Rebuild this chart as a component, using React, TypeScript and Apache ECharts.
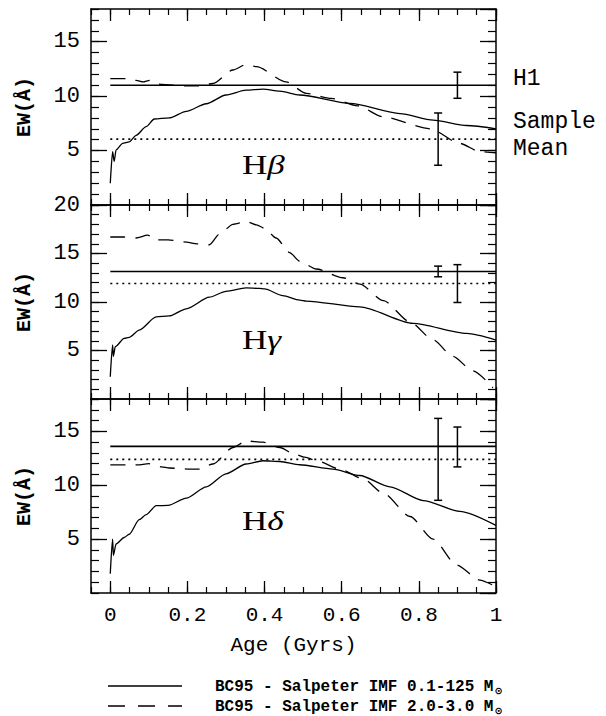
import React, { useEffect, useRef } from 'react';
import * as echarts from 'echarts';

// ---------- data ----------
const majorAgeTicks = [0, 0.2, 0.4, 0.6, 0.8, 1];
const panelLabels = ['H{g|β}', 'H{g|γ}', 'H{g|δ}'];
const panelYMax = [18, 20, 18];
const h1Values = [11.0, 13.15, 13.6];
const sampleMeanValues = [6.05, 11.9, 12.4];

// [age, centre, half-length]
const errorBarsHbeta = [[0.85, 6.05, 2.4], [0.9, 11.0, 1.2]];
const errorBarsHgamma = [[0.85, 13.15, 0.55], [0.9, 11.9, 1.95]];
const errorBarsHdelta = [[0.85, 12.4, 3.8], [0.9, 13.55, 1.85]];

// H-beta
const hbetaSolidAge = [0.0, 0.006, 0.01, 0.015, 0.032, 0.049, 0.067, 0.093, 0.114, 0.153, 0.197, 0.249, 0.3, 0.352, 0.396, 0.439, 0.491, 0.621, 0.751, 0.837, 0.924, 1.0];
const hbetaSolidEW = [2.0, 4.9, 4.0, 5.05, 5.66, 5.8, 6.4, 7.2, 7.9, 8.0, 8.6, 9.3, 10.1, 10.55, 10.65, 10.45, 10.1, 9.33, 8.4, 7.8, 7.3, 7.0];
const hbetaDashedAge = [0.0, 0.041, 0.067, 0.085, 0.102, 0.133, 0.19, 0.23, 0.266, 0.318, 0.352, 0.379, 0.456, 0.508, 0.573, 0.642, 0.707, 0.829, 0.906, 0.958, 1.0];
const hbetaDashedEW = [11.6, 11.6, 11.45, 11.3, 11.45, 11.07, 10.95, 10.95, 11.16, 12.4, 12.9, 12.7, 11.3, 10.25, 9.8, 9.1, 8.1, 7.0, 5.66, 4.9, 4.8];

// H-gamma
const hgammaSolidAge = [0.0, 0.006, 0.008, 0.013, 0.036, 0.049, 0.075, 0.119, 0.153, 0.197, 0.257, 0.3, 0.352, 0.387, 0.4, 0.447, 0.491, 0.508, 0.647, 0.785, 0.924, 1.0];
const hgammaSolidEW = [2.3, 5.57, 4.4, 5.4, 6.25, 6.35, 7.1, 8.46, 8.56, 9.3, 10.5, 11.1, 11.45, 11.4, 11.35, 10.66, 10.2, 10.1, 9.5, 7.8, 6.76, 6.08];
const hgammaDashedAge = [0.0, 0.036, 0.067, 0.097, 0.119, 0.15, 0.191, 0.227, 0.257, 0.283, 0.318, 0.352, 0.379, 0.4, 0.43, 0.465, 0.491, 0.534, 0.603, 0.647, 0.708, 0.777, 0.837, 0.888, 0.94, 0.992];
const hgammaDashedEW = [16.7, 16.7, 16.6, 16.9, 16.4, 16.4, 16.2, 16.0, 15.9, 17.0, 18.0, 18.3, 17.96, 17.6, 16.6, 15.1, 14.2, 13.4, 12.5, 11.85, 10.15, 7.95, 6.1, 4.4, 2.9, 1.16];

// H-delta
const hdeltaSolidAge = [0.0, 0.006, 0.008, 0.015, 0.036, 0.049, 0.075, 0.093, 0.119, 0.15, 0.197, 0.249, 0.3, 0.352, 0.396, 0.44, 0.491, 0.577, 0.647, 0.725, 0.811, 0.906, 1.0];
const hdeltaSolidEW = [1.8, 5.0, 3.5, 4.55, 5.15, 5.45, 6.8, 7.27, 8.1, 8.13, 8.8, 9.85, 11.06, 11.97, 12.27, 12.2, 11.9, 11.5, 10.9, 9.85, 8.58, 7.58, 6.27];
const hdeltaDashedAge = [0.0, 0.041, 0.07, 0.1, 0.133, 0.153, 0.2, 0.23, 0.266, 0.318, 0.352, 0.396, 0.44, 0.474, 0.504, 0.535, 0.595, 0.655, 0.708, 0.777, 0.837, 0.898, 0.958, 0.99];
const hdeltaDashedEW = [11.88, 11.88, 11.88, 12.0, 11.7, 11.6, 11.5, 11.5, 11.97, 13.5, 14.1, 14.0, 13.5, 12.95, 12.6, 12.27, 11.5, 10.6, 9.25, 7.1, 5.0, 2.6, 1.2, 0.76];

const LEGEND_SOLID = 'BC95 - Salpeter IMF 0.1-125 M⊙';
const LEGEND_DASHED = 'BC95 - Salpeter IMF 2.0-3.0 M⊙';
const legendNames = [LEGEND_SOLID, LEGEND_DASHED];

// ---------- build ----------
const zip = (a: number[], b: number[]) => a.map((v, i) => [v, b[i]]);

const panels = [
  { solid: zip(hbetaSolidAge, hbetaSolidEW), dashed: zip(hbetaDashedAge, hbetaDashedEW), err: errorBarsHbeta },
  { solid: zip(hgammaSolidAge, hgammaSolidEW), dashed: zip(hgammaDashedAge, hgammaDashedEW), err: errorBarsHgamma },
  { solid: zip(hdeltaSolidAge, hdeltaSolidEW), dashed: zip(hdeltaDashedAge, hdeltaDashedEW), err: errorBarsHdelta },
];

const gridBoxes = [
  { top: 9, height: 196 },
  { top: 205, height: 194 },
  { top: 399, height: 194 },
];
const labelCentres = [165, 340, 521];

const MONO = 'Liberation Mono';
const BLACK = '#000';
const DASH = [15, 10];

function buildOption() {
  const grid = gridBoxes.map((g) => ({ left: 91, width: 405, top: g.top, height: g.height }));
  const xAxis: any[] = [];
  const yAxis: any[] = [];
  const series: any[] = [];

  panels.forEach((p, i) => {
    const isLast = i === panels.length - 1;
    const lineStyle = { color: BLACK, width: 1.5 };
    (['bottom', 'top'] as const).forEach((pos) => {
      xAxis.push({
        type: 'value', gridIndex: i, position: pos, min: -0.05, max: 1,
        axisLine: { show: true, onZero: false, lineStyle },
        axisTick: { show: true, inside: true, length: 12, customValues: majorAgeTicks, lineStyle: { color: BLACK, width: 1.3 } },
        axisLabel: {
          show: isLast && pos === 'bottom', customValues: majorAgeTicks, margin: 12,
          fontFamily: MONO, fontSize: 21, color: BLACK, showMinLabel: true,
        },
        splitLine: { show: false },
        name: isLast && pos === 'bottom' ? 'Age (Gyrs)' : '',
        nameLocation: 'middle', nameGap: 42,
        nameTextStyle: { fontFamily: MONO, fontSize: 21, color: BLACK },
      });
      xAxis.push({
        type: 'value', gridIndex: i, position: pos, min: -0.05, max: 1, interval: 0.05,
        axisLine: { show: false, onZero: false },
        axisTick: { show: true, inside: true, length: 6, lineStyle: { color: BLACK, width: 1.2 } },
        axisLabel: { show: false },
        splitLine: { show: false },
      });
    });
    (['left', 'right'] as const).forEach((pos) => {
      yAxis.push({
        type: 'value', gridIndex: i, position: pos, min: 0, max: panelYMax[i], interval: 5,
        axisLine: { show: true, onZero: false, lineStyle },
        axisTick: { show: true, inside: true, length: 16, lineStyle: { color: BLACK, width: 1.3 } },
        axisLabel: {
          show: pos === 'left', margin: 11, fontFamily: MONO, fontSize: 22, color: BLACK,
          showMinLabel: false, showMaxLabel: i === 1,
        },
        splitLine: { show: false },
        name: pos === 'left' ? 'EW(Å)' : '',
        nameLocation: 'middle', nameRotate: 90, nameGap: 57,
        nameTextStyle: { fontFamily: MONO, fontSize: 20, fontWeight: 'bold', color: BLACK },
      });
      yAxis.push({
        type: 'value', gridIndex: i, position: pos, min: 0, max: panelYMax[i], interval: 1,
        axisLine: { show: false, onZero: false },
        axisTick: { show: true, inside: true, length: 8, lineStyle: { color: BLACK, width: 1.2 } },
        axisLabel: { show: false },
        splitLine: { show: false },
      });
    });

    const xi = i * 4;
    const yi = i * 4;
    series.push({
      type: 'line', name: LEGEND_SOLID, xAxisIndex: xi, yAxisIndex: yi, data: p.solid,
      symbol: 'none', smooth: 0.25, smoothMonotone: 'x',
      lineStyle: { color: BLACK, width: 1.3 }, itemStyle: { color: BLACK }, z: 3,
    });
    series.push({
      type: 'line', name: LEGEND_DASHED, xAxisIndex: xi, yAxisIndex: yi, data: p.dashed,
      symbol: 'none', smooth: 0.25, smoothMonotone: 'x',
      lineStyle: { color: BLACK, width: 1.3, type: DASH }, itemStyle: { color: BLACK }, z: 3,
    });
    series.push({
      type: 'line', xAxisIndex: xi, yAxisIndex: yi, data: [[0, h1Values[i]], [1, h1Values[i]]],
      symbol: 'none', lineStyle: { color: BLACK, width: 1.6 }, silent: true,
    });
    series.push({
      type: 'line', xAxisIndex: xi, yAxisIndex: yi, data: [[0, sampleMeanValues[i]], [1, sampleMeanValues[i]]],
      symbol: 'none', lineStyle: { color: BLACK, width: 1.6, type: [2, 4] }, silent: true,
    });
    series.push({
      type: 'custom', xAxisIndex: xi, yAxisIndex: yi, data: p.err,
      encode: { x: 0, y: 1 },
      renderItem: (params: any, api: any) => {
        const x = api.value(0);
        const c = api.value(1);
        const e = api.value(2);
        const top = api.coord([x, c + e]);
        const bot = api.coord([x, c - e]);
        const w = 4;
        const st = { stroke: BLACK, lineWidth: 1.5 };
        return {
          type: 'group',
          children: [
            { type: 'line', shape: { x1: top[0], y1: top[1], x2: bot[0], y2: bot[1] }, style: st },
            { type: 'line', shape: { x1: top[0] - w, y1: top[1], x2: top[0] + w, y2: top[1] }, style: st },
            { type: 'line', shape: { x1: bot[0] - w, y1: bot[1], x2: bot[0] + w, y2: bot[1] }, style: st },
          ],
        };
      },
    });
  });

  const graphic: any[] = panelLabels.map((t, i) => ({
    type: 'text', x: 242, y: labelCentres[i], scaleX: 1.3,
    style: {
      text: t, fill: BLACK, fontFamily: 'Liberation Serif', fontSize: 27, verticalAlign: 'middle',
      rich: { g: { fontFamily: 'Liberation Serif', fontStyle: 'italic', fontSize: 27 } },
    },
  }));
  graphic.push({
    type: 'text', x: 513, y: 79,
    style: { text: 'H1', fill: BLACK, fontFamily: MONO, fontSize: 23, verticalAlign: 'middle' },
  });
  graphic.push({
    type: 'text', x: 513, y: 135,
    style: { text: 'Sample\nMean', fill: BLACK, fontFamily: MONO, fontSize: 23, lineHeight: 27, verticalAlign: 'middle' },
  });

  // legend key (drawn as graphic so the long key lines match the figure)
  const legendRows = [686, 706];
  legendNames.forEach((name, k) => {
    const y = legendRows[k];
    graphic.push({
      type: 'line', shape: { x1: 108, y1: y, x2: 182, y2: y },
      style: { stroke: BLACK, lineWidth: 1.3, lineDash: k === 0 ? null : [17, 13] },
    });
    graphic.push({
      type: 'text', x: 215, y: y + 1,
      style: {
        text: name.replace('M⊙', 'M{s|⊙}'), fill: BLACK, fontFamily: MONO, fontSize: 16,
        fontWeight: 'bold', verticalAlign: 'middle',
        rich: { s: { fontFamily: 'DejaVu Sans', fontSize: 10, fontWeight: 'bold', fill: BLACK, padding: [7, 0, 0, 1] } },
      },
    });
  });

  return {
    animation: false,
    backgroundColor: '#fff',
    grid,
    xAxis,
    yAxis,
    series,
    graphic,
  };
}

export default function App() {
  const ref = useRef<HTMLDivElement>(null);
  useEffect(() => {
    if (!ref.current) return;
    const chart = echarts.init(ref.current, undefined, { renderer: 'svg' });
    chart.setOption(buildOption() as any);
    return () => chart.dispose();
  }, []);
  return (
    <div
      ref={ref}
      style={{ position: 'fixed', left: 0, top: 0, width: 606, height: 716, background: '#fff' }}
    />
  );
}
